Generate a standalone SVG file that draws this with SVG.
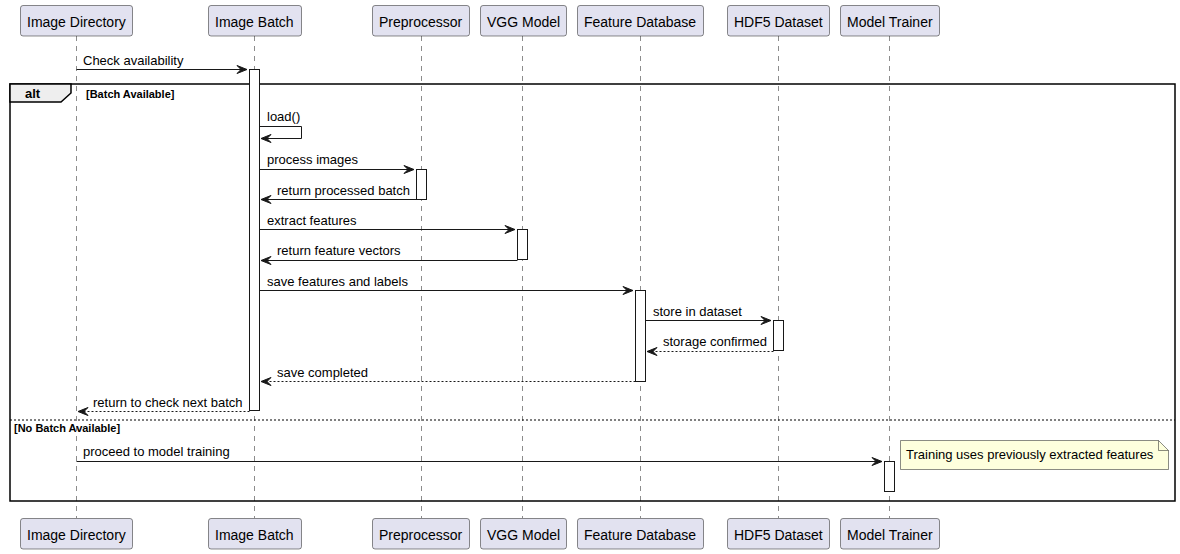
<svg xmlns="http://www.w3.org/2000/svg" width="1180" height="554" viewBox="0 0 1180 554">
<style>
.p{fill:#E2E2F0;stroke:#181818;stroke-width:0.5}
.pt{font-family:"Liberation Sans",Arial,sans-serif;font-size:14px;fill:#000}
.ll{stroke:#181818;stroke-width:0.5;stroke-dasharray:5,5}
.m{font-family:"Liberation Sans",Arial,sans-serif;font-size:13px;fill:#000}
.g{font-family:"Liberation Sans",Arial,sans-serif;font-size:11px;font-weight:bold;fill:#000}
.ln{stroke:#181818;stroke-width:1;fill:none}
.dl{stroke:#181818;stroke-width:1;fill:none;stroke-dasharray:2,2}
.act{fill:#FFFFFF;stroke:#181818;stroke-width:1}
.ah{fill:#181818;stroke:#181818;stroke-width:1}
</style>
<rect width="1180" height="554" fill="#FFFFFF"/>
<g id="lifelines">
<line class="ll" x1="76.5" y1="36" x2="76.5" y2="518"/>
<line class="ll" x1="254.5" y1="36" x2="254.5" y2="518"/>
<line class="ll" x1="421.5" y1="36" x2="421.5" y2="518"/>
<line class="ll" x1="522.5" y1="36" x2="522.5" y2="518"/>
<line class="ll" x1="640.5" y1="36" x2="640.5" y2="518"/>
<line class="ll" x1="778.5" y1="36" x2="778.5" y2="518"/>
<line class="ll" x1="889.5" y1="36" x2="889.5" y2="518"/>
</g>
<g id="frame">
<rect x="10" y="84" width="1165" height="417" fill="none" stroke="#000" stroke-width="1.5"/>
<path d="M10,84 L71,84 L71,93 L61,102 L10,102 Z" fill="#EEEEEE" stroke="#000" stroke-width="1.5"/>
<text x="25" y="98" font-family="Liberation Sans,Arial,sans-serif" font-size="13" font-weight="bold">alt</text>
<text class="g" x="86" y="98">[Batch Available]</text>
<line x1="10" y1="420" x2="1175" y2="420" stroke="#000" stroke-width="1" stroke-dasharray="2,2"/>
<text class="g" x="14" y="432">[No Batch Available]</text>
</g>
<g id="activations">
<rect class="act" x="249.5" y="69.5" width="10" height="341"/>
<rect class="act" x="416.5" y="169.5" width="10" height="30"/>
<rect class="act" x="517.5" y="229.5" width="10" height="30"/>
<rect class="act" x="635.5" y="290.5" width="10" height="91"/>
<rect class="act" x="773.5" y="320.5" width="10" height="30"/>
<rect class="act" x="884.5" y="461.5" width="10" height="30"/>
</g>
<g id="connectors">
<line class="ln" x1="76.5" y1="69.5" x2="247" y2="69.5"/>
<path class="ah" d="M237,65.5 L247,69.5 L237,73.5 L241,69.5 Z"/>
<text class="m" x="83" y="65">Check availability</text>

<path class="ln" d="M259.5,126.5 L301.5,126.5 L301.5,138.5 L261,138.5"/>
<path class="ah" d="M271,134.5 L261,138.5 L271,142.5 L267,138.5 Z"/>
<text class="m" x="267" y="121">load()</text>

<line class="ln" x1="259.5" y1="169.5" x2="414" y2="169.5"/>
<path class="ah" d="M404,165.5 L414,169.5 L404,173.5 L408,169.5 Z"/>
<text class="m" x="267" y="164">process images</text>

<line class="ln" x1="416.5" y1="199.5" x2="261" y2="199.5"/>
<path class="ah" d="M271,195.5 L261,199.5 L271,203.5 L267,199.5 Z"/>
<text class="m" x="277" y="195">return processed batch</text>

<line class="ln" x1="259.5" y1="229.5" x2="515" y2="229.5"/>
<path class="ah" d="M505,225.5 L515,229.5 L505,233.5 L509,229.5 Z"/>
<text class="m" x="267" y="225">extract features</text>

<line class="ln" x1="517.5" y1="260.5" x2="261" y2="260.5"/>
<path class="ah" d="M271,256.5 L261,260.5 L271,264.5 L267,260.5 Z"/>
<text class="m" x="277" y="255">return feature vectors</text>

<line class="ln" x1="259.5" y1="290.5" x2="633" y2="290.5"/>
<path class="ah" d="M623,286.5 L633,290.5 L623,294.5 L627,290.5 Z"/>
<text class="m" x="267" y="286">save features and labels</text>

<line class="ln" x1="645.5" y1="320.5" x2="771" y2="320.5"/>
<path class="ah" d="M761,316.5 L771,320.5 L761,324.5 L765,320.5 Z"/>
<text class="m" x="653" y="316">store in dataset</text>

<line class="dl" x1="773.5" y1="351.5" x2="647" y2="351.5"/>
<path class="ah" d="M657,347.5 L647,351.5 L657,355.5 L653,351.5 Z"/>
<text class="m" x="663" y="346">storage confirmed</text>

<line class="dl" x1="635.5" y1="381.5" x2="261" y2="381.5"/>
<path class="ah" d="M271,377.5 L261,381.5 L271,385.5 L267,381.5 Z"/>
<text class="m" x="277" y="377">save completed</text>

<line class="dl" x1="249.5" y1="411.5" x2="78" y2="411.5"/>
<path class="ah" d="M88,407.5 L78,411.5 L88,415.5 L84,411.5 Z"/>
<text class="m" x="93" y="407">return to check next batch</text>

<line class="ln" x1="76.5" y1="461.5" x2="882" y2="461.5"/>
<path class="ah" d="M872,457.5 L882,461.5 L872,465.5 L876,461.5 Z"/>
<text class="m" x="83" y="456">proceed to model training</text>
</g>
<g id="note">
<path d="M900.5,440.5 L1158.5,440.5 L1168.5,450.5 L1168.5,469.5 L900.5,469.5 Z" fill="#FEFFDD" stroke="#181818" stroke-width="0.5"/>
<path d="M1158.5,440.5 L1158.5,450.5 L1168.5,450.5" fill="none" stroke="#181818" stroke-width="0.5"/>
<text class="m" x="906" y="459">Training uses previously extracted features</text>
</g>
<g id="p-image-directory">
<rect class="p" x="20.5" y="5.5" width="112" height="30.5" rx="2.5"/>
<text class="pt" x="27" y="27">Image Directory</text>
<rect class="p" x="20.5" y="518.5" width="112" height="30.5" rx="2.5"/>
<text class="pt" x="27" y="540">Image Directory</text>
</g>
<g id="p-image-batch">
<rect class="p" x="208.5" y="5.5" width="93" height="30.5" rx="2.5"/>
<text class="pt" x="215" y="27">Image Batch</text>
<rect class="p" x="208.5" y="518.5" width="93" height="30.5" rx="2.5"/>
<text class="pt" x="215" y="540">Image Batch</text>
</g>
<g id="p-preprocessor">
<rect class="p" x="372.5" y="5.5" width="97" height="30.5" rx="2.5"/>
<text class="pt" x="379" y="27">Preprocessor</text>
<rect class="p" x="372.5" y="518.5" width="97" height="30.5" rx="2.5"/>
<text class="pt" x="379" y="540">Preprocessor</text>
</g>
<g id="p-vgg-model">
<rect class="p" x="480.5" y="5.5" width="86" height="30.5" rx="2.5"/>
<text class="pt" x="487" y="27">VGG Model</text>
<rect class="p" x="480.5" y="518.5" width="86" height="30.5" rx="2.5"/>
<text class="pt" x="487" y="540">VGG Model</text>
</g>
<g id="p-feature-database">
<rect class="p" x="577.5" y="5.5" width="126" height="30.5" rx="2.5"/>
<text class="pt" x="584" y="27">Feature Database</text>
<rect class="p" x="577.5" y="518.5" width="126" height="30.5" rx="2.5"/>
<text class="pt" x="584" y="540">Feature Database</text>
</g>
<g id="p-hdf5-dataset">
<rect class="p" x="727.5" y="5.5" width="102" height="30.5" rx="2.5"/>
<text class="pt" x="734" y="27">HDF5 Dataset</text>
<rect class="p" x="727.5" y="518.5" width="102" height="30.5" rx="2.5"/>
<text class="pt" x="734" y="540">HDF5 Dataset</text>
</g>
<g id="p-model-trainer">
<rect class="p" x="840.5" y="5.5" width="99" height="30.5" rx="2.5"/>
<text class="pt" x="847" y="27">Model Trainer</text>
<rect class="p" x="840.5" y="518.5" width="99" height="30.5" rx="2.5"/>
<text class="pt" x="847" y="540">Model Trainer</text>
</g>
</svg>
